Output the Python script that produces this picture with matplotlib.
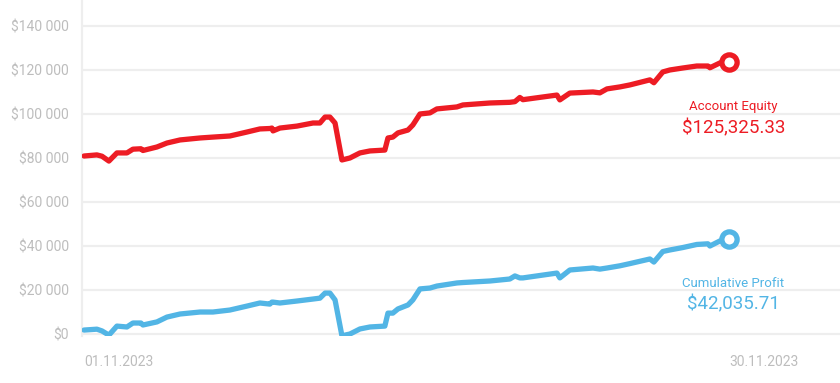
import matplotlib
matplotlib.use("Agg")
import matplotlib.pyplot as plt
from matplotlib.ticker import FuncFormatter

# ---- data ----
days = [0, 0.58, 0.81, 1.12, 1.48, 1.93, 2.20, 2.56, 2.65, 3.28, 3.73, 4.32, 5.22, 5.80,
        6.56, 7.33, 7.91, 8.36, 8.45, 8.50, 8.81, 9.58, 10.30, 10.61, 10.84, 11.06, 11.29,
        11.60, 11.96, 12.41, 12.86, 13.53, 13.67, 13.89, 14.12, 14.57, 14.79, 15.11, 15.56,
        15.87, 16.77, 17.04, 18.26, 19.15, 19.38, 19.60, 19.74, 21.27, 21.40, 21.85, 22.89,
        23.20, 23.52, 24.10, 24.55, 25.45, 25.63, 26.03, 26.35, 26.93, 27.56, 28.06, 28.15,
        28.60, 29.00]

equity = [80900, 81400, 80800, 78600, 82300, 82300, 84000, 84200, 83400, 85000, 86800, 88200,
          89100, 89500, 90000, 91800, 93200, 93400, 93600, 92300, 93600, 94500, 95900, 95900,
          98600, 98600, 95900, 79100, 80000, 82300, 83200, 83600, 89100, 89500, 91400, 92700,
          95000, 100000, 100500, 102300, 103200, 104100, 105000, 105300, 105600, 107500, 106500,
          108600, 106400, 109500, 110000, 109600, 111400, 112300, 113200, 115500, 114200, 119100,
          120000, 120900, 121800, 121800, 121000, 123200, 123600]

profit = [1800, 2200, 1400, -500, 3600, 3200, 5000, 5000, 4100, 5500, 7700, 9100,
          10000, 10000, 10900, 12700, 14100, 13600, 14500, 14500, 14100, 15000, 15900, 16300,
          18600, 18600, 15500, -800, 0, 2300, 3200, 3600, 9500, 9500, 11400, 13200,
          15500, 20500, 20900, 21800, 23200, 23400, 24100, 25000, 26400, 25500, 25500,
          27700, 25500, 29100, 30000, 29500, 30000, 31000, 32000, 34100, 32700, 37500,
          38200, 39300, 40700, 41000, 40000, 42300, 43000]

x_tick_pos = [0, 29]
x_tick_labels = ["01.11.2023", "30.11.2023"]
y_ticks = [0, 20000, 40000, 60000, 80000, 100000, 120000, 140000]

equity_label = "Account Equity"
equity_value = "$125,325.33"
profit_label = "Cumulative Profit"
profit_value = "$42,035.71"

RED = "#ED1C24"
BLUE = "#52B5E5"
GRID = "#EEEEEE"
TICK = "#BDBDBD"

plt.rcParams['font.family'] = ['Roboto', 'DejaVu Sans']

fig = plt.figure(figsize=(8.4, 3.83), dpi=100)
ax = fig.add_axes([82 / 840, 47 / 383, 758 / 840, 336 / 383])

ax.plot(days, equity, color=RED, lw=3.8, solid_joinstyle='round', solid_capstyle='round', zorder=3)
ax.plot(days, profit, color=BLUE, lw=3.8, solid_joinstyle='round', solid_capstyle='round', zorder=3)

ax.plot(days[-1], equity[-1], 'o', ms=11, mfc='white', mec=RED, mew=3.8, zorder=4)
ax.plot(days[-1], profit[-1], 'o', ms=11, mfc='white', mec=BLUE, mew=3.8, zorder=4)

ax.set_xlim(-0.09, 34.0)
ax.set_ylim(-900, 151800)

ax.set_yticks(y_ticks)
ax.yaxis.set_major_formatter(FuncFormatter(lambda v, p: "$" + f"{int(v):,}".replace(",", " ")))
ax.set_xticks(x_tick_pos)
ax.set_xticklabels(x_tick_labels)
for lbl in ax.get_xticklabels():
    lbl.set_horizontalalignment('left')

ax.tick_params(axis='y', length=0, pad=9.5, labelsize=10, labelcolor=TICK)
ax.tick_params(axis='x', length=0, pad=14, labelsize=10, labelcolor=TICK)

ax.grid(axis='y', color=GRID, lw=1.6, zorder=0)
ax.set_axisbelow(True)
for s in ['top', 'right', 'bottom']:
    ax.spines[s].set_visible(False)
ax.spines['left'].set_color(GRID)
ax.spines['left'].set_linewidth(1.6)

tx = 29.2
ax.text(tx, 103500, equity_label, color=RED, fontsize=9.5, ha='center', va='center')
ax.text(tx, 93300, equity_value, color=RED, fontsize=13.5, ha='center', va='center')
ax.text(tx, 23000, profit_label, color=BLUE, fontsize=9.5, ha='center', va='center')
ax.text(tx, 13500, profit_value, color=BLUE, fontsize=13.5, ha='center', va='center')

fig.savefig("out.png", dpi=100)
